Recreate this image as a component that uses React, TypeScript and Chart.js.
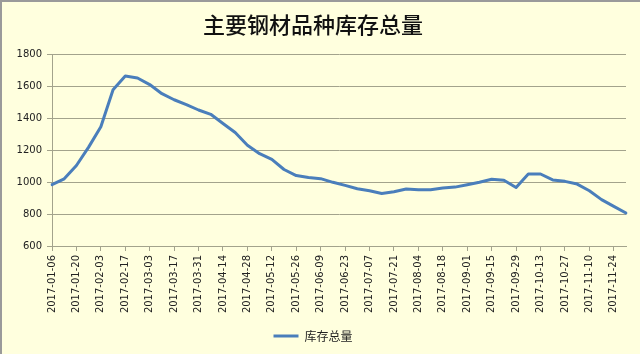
import React, { useEffect, useRef } from "react";
import { Chart, registerables } from "chart.js";

Chart.register(...registerables);

const TITLE = "主要钢材品种库存总量";
const SERIES_NAME = "库存总量";

const dates: string[] = [
  "2017-01-06", "2017-01-13", "2017-01-20", "2017-01-27", "2017-02-03", "2017-02-10",
  "2017-02-17", "2017-02-24", "2017-03-03", "2017-03-10", "2017-03-17", "2017-03-24",
  "2017-03-31", "2017-04-07", "2017-04-14", "2017-04-21", "2017-04-28", "2017-05-05",
  "2017-05-12", "2017-05-19", "2017-05-26", "2017-06-02", "2017-06-09", "2017-06-16",
  "2017-06-23", "2017-06-30", "2017-07-07", "2017-07-14", "2017-07-21", "2017-07-28",
  "2017-08-04", "2017-08-11", "2017-08-18", "2017-08-25", "2017-09-01", "2017-09-08",
  "2017-09-15", "2017-09-22", "2017-09-29", "2017-10-06", "2017-10-13", "2017-10-20",
  "2017-10-27", "2017-11-03", "2017-11-10", "2017-11-17", "2017-11-24", "2017-12-01",
];

const inventory: number[] = [
  983, 1020, 1103, 1218, 1345, 1577,
  1662, 1650, 1609, 1552, 1514, 1484,
  1450, 1423, 1366, 1309, 1230, 1177,
  1141, 1078, 1040, 1028, 1021, 998,
  979, 958, 945, 928, 939, 956,
  952, 952, 962, 968, 983, 998,
  1017, 1011, 966, 1050, 1050, 1013,
  1004, 987, 945, 890, 848, 806,
];

const Y_MIN = 600;
const Y_MAX = 1800;
const Y_STEP = 200;

const BG = "#FFFFDE";
const GRID = "#A3A38C";
const LINE = "#4A7EBB";
const TEXT = "#222222";

const bgPlugin = {
  id: "bgPlugin",
  beforeDraw(chart: any) {
    const { ctx, width, height } = chart;
    ctx.save();
    ctx.fillStyle = BG;
    ctx.fillRect(0, 0, width, height);
    ctx.strokeStyle = "#9A9A9A";
    ctx.lineWidth = 2;
    ctx.beginPath();
    ctx.moveTo(1, height);
    ctx.lineTo(1, 1);
    ctx.lineTo(width, 1);
    ctx.stroke();
    ctx.restore();
  },
};

export default function App() {
  const ref = useRef<HTMLCanvasElement | null>(null);

  useEffect(() => {
    if (!ref.current) return;
    const chart = new Chart(ref.current, {
      type: "line",
      data: {
        labels: dates,
        datasets: [
          {
            label: SERIES_NAME,
            data: inventory,
            borderColor: LINE,
            backgroundColor: LINE,
            borderWidth: 3,
            tension: 0,
            pointRadius: 0,
            pointHoverRadius: 0,
            borderJoinStyle: "round",
            borderCapStyle: "round",
          },
        ],
      },
      options: {
        animation: false,
        responsive: false,
        maintainAspectRatio: false,
        layout: { padding: { left: 0, right: 14, top: 0, bottom: 2 } },
        plugins: {
          title: {
            display: true,
            text: TITLE,
            color: "#111111",
            font: { family: "'Noto Sans CJK SC'", size: 22, weight: "500", lineHeight: 1.2 },
            padding: { top: 11, bottom: 16.6 },
          },
          legend: {
            position: "bottom",
            labels: {
              color: TEXT,
              font: { family: "'Noto Sans CJK SC'", size: 12 },
              usePointStyle: true,
              pointStyle: "line",
              pointStyleWidth: 25,
              padding: 2,
            },
          },
          tooltip: { enabled: false },
        },
        scales: {
          x: {
            type: "category",
            offset: false,
            afterFit(scale: any) {
              scale.height = 82;
            },
            border: { display: true, color: GRID, width: 1 },
            grid: {
              display: true,
              drawOnChartArea: false,
              drawTicks: true,
              tickLength: 5,
              color: GRID,
            },
            ticks: {
              autoSkip: false,
              maxRotation: 90,
              minRotation: 90,
              padding: 4,
              color: TEXT,
              font: { family: "'DejaVu Sans'", size: 10 },
              callback(this: any, _v: any, i: number) {
                return i % 2 === 0 ? dates[i] : null;
              },
            },
          },
          y: {
            min: Y_MIN,
            max: Y_MAX,
            afterFit(scale: any) {
              scale.width = 52;
            },
            border: { display: true, color: GRID, width: 1 },
            grid: {
              color: GRID,
              lineWidth: 1,
              tickLength: 5,
            },
            ticks: {
              stepSize: Y_STEP,
              padding: 5,
              color: TEXT,
              font: { family: "'DejaVu Sans'", size: 10 },
              callback(v: any) {
                return String(v);
              },
            },
          },
        },
      },
      plugins: [bgPlugin],
    } as any);
    return () => chart.destroy();
  }, []);

  return (
    <div style={{ position: "absolute", left: 0, top: 0, width: 640, height: 354 }}>
      <canvas ref={ref} width={640} height={354} style={{ display: "block", width: 640, height: 354 }} />
    </div>
  );
}
